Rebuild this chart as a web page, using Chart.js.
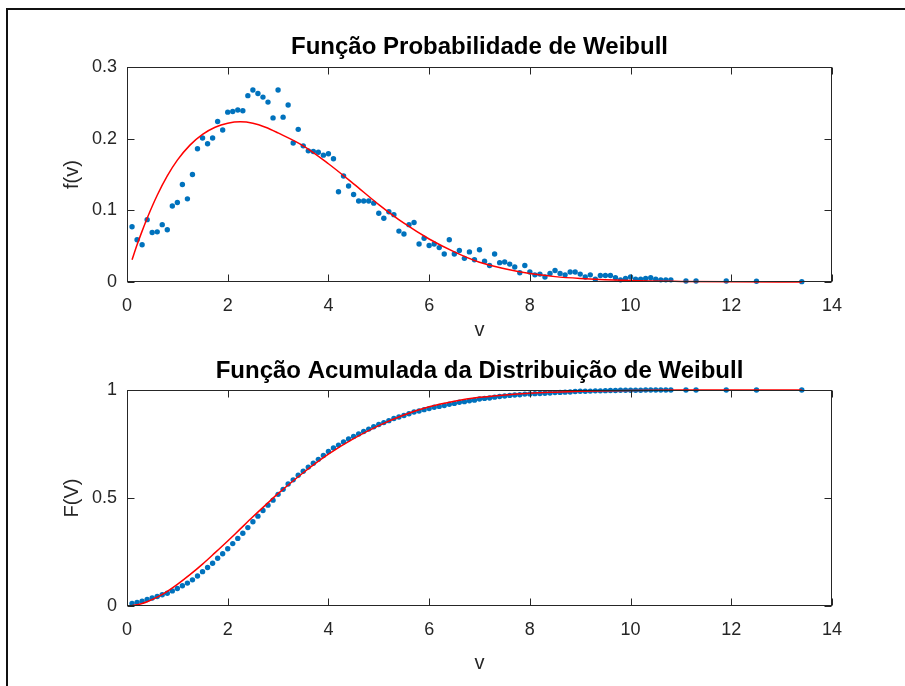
<!DOCTYPE html>
<html><head><meta charset="utf-8">
<script src="https://cdn.jsdelivr.net/npm/chart.js@4.4.1/dist/chart.umd.min.js"></script>
<style>
html,body{margin:0;padding:0;background:#fff;}
body{width:905px;height:686px;position:relative;overflow:hidden;}
#frame{position:absolute;left:6px;top:8px;width:920px;height:700px;border-top:2px solid #111;border-left:2px solid #111;}
#w1{position:absolute;left:0;top:0;width:905px;height:345px;}
#w2{position:absolute;left:0;top:345px;width:905px;height:341px;}
</style></head><body>
<div id="frame"></div>
<div id="w1"><canvas id="c1" width="905" height="345"></canvas></div>
<div id="w2"><canvas id="c2" width="905" height="341"></canvas></div>
<script>
// wind speed classes (observed)
const speeds = [0.1,0.2,0.3,0.4,0.5,0.6,0.7,0.8,0.9,1.0,
1.1,1.2,1.3,1.4,1.5,1.6,1.7,1.8,1.9,2.0,
2.1,2.2,2.3,2.4,2.5,2.6,2.7,2.8,2.9,3.0,
3.1,3.2,3.3,3.4,3.5,3.6,3.7,3.8,3.9,4.0,
4.1,4.2,4.3,4.4,4.5,4.6,4.7,4.8,4.9,5.0,
5.1,5.2,5.3,5.4,5.5,5.6,5.7,5.8,5.9,6.0,
6.1,6.2,6.3,6.4,6.5,6.6,6.7,6.8,6.9,7.0,
7.1,7.2,7.3,7.4,7.5,7.6,7.7,7.8,7.9,8.0,
8.1,8.2,8.3,8.4,8.5,8.6,8.7,8.8,8.9,9.0,
9.1,9.2,9.3,9.4,9.5,9.6,9.7,9.8,9.9,10.0,
10.1,10.2,10.3,10.4,10.5,10.6,10.7,10.8,
11.1,11.3,11.9,12.5,13.4];
// observed probability density f(v)
const pdfObserved = [0.077,0.059,0.052,0.087,0.069,0.070,0.080,0.073,0.106,0.111,
0.136,0.116,0.150,0.186,0.201,0.193,0.201,0.224,0.212,0.237,
0.238,0.240,0.239,0.260,0.268,0.263,0.258,0.251,0.229,0.268,
0.230,0.247,0.194,0.213,0.190,0.183,0.182,0.181,0.177,0.179,
0.172,0.126,0.148,0.134,0.122,0.113,0.113,0.113,0.110,0.096,
0.089,0.098,0.094,0.071,0.067,0.080,0.083,0.053,0.061,0.051,
0.053,0.048,0.039,0.059,0.039,0.044,0.033,0.042,0.031,0.045,
0.029,0.023,0.039,0.027,0.028,0.025,0.021,0.013,0.023,0.014,
0.010,0.011,0.007,0.012,0.016,0.012,0.010,0.014,0.014,0.011,
0.007,0.010,0.004,0.009,0.009,0.009,0.006,0.003,0.005,0.007,
0.004,0.004,0.005,0.006,0.004,0.003,0.003,0.003,
0.0014,0.0014,0.0014,0.001,0.0005];
// observed cumulative F(V)
const cdfObserved = [0.012,0.017,0.022,0.030,0.037,0.044,0.052,0.059,0.070,0.081,
0.094,0.106,0.121,0.139,0.159,0.178,0.198,0.221,0.242,0.265,
0.289,0.313,0.337,0.363,0.390,0.416,0.442,0.467,0.490,0.517,
0.540,0.565,0.584,0.605,0.624,0.643,0.661,0.679,0.697,0.715,
0.732,0.745,0.759,0.773,0.785,0.796,0.808,0.819,0.830,0.840,
0.849,0.858,0.868,0.875,0.882,0.890,0.898,0.903,0.909,0.914,
0.920,0.924,0.928,0.934,0.938,0.943,0.946,0.950,0.953,0.958,
0.961,0.963,0.967,0.970,0.972,0.975,0.977,0.978,0.981,0.982,
0.983,0.984,0.985,0.986,0.988,0.989,0.990,0.991,0.993,0.994,
0.994,0.995,0.996,0.996,0.997,0.998,0.998,0.999,0.999,0.999,
0.999,0.999,1.000,1.000,1.000,1.000,1.000,1.000,
1.000,1.000,1.000,1.000,1.000];
// fitted Weibull curve (red)
const fitSpeeds = [0.1,0.2,0.3,0.4,0.6,0.8,1.0,1.25,1.5,1.75,2.0,2.25,2.5,2.75,3.0,3.5,4.0,4.5,5.0,5.5,6.0,6.5,7.0,7.5,8.0,8.5,9.0,10.0,11.0,12.0,13.4];
const pdfFit = [0.031,0.052,0.071,0.089,0.121,0.148,0.170,0.191,0.206,0.216,0.2215,0.2235,0.2215,0.216,0.208,0.190,0.165,0.137,0.108,0.082,0.060,0.042,0.0275,0.0185,0.0118,0.0075,0.005,0.002,0.0008,0.0003,0.0001];
const cdfFit = [0.002,0.006,0.012,0.020,0.041,0.068,0.100,0.145,0.194,0.247,0.301,0.357,0.413,0.467,0.520,0.617,0.703,0.775,0.835,0.884,0.922,0.948,0.966,0.977,0.985,0.990,0.994,0.998,0.9995,1.0,1.0];
const xTicks = [0,2,4,6,8,10,12,14];
const pdfTicks = [0,0.1,0.2,0.3];
const cdfTicks = [0,0.5,1];
const titles = ['Função Probabilidade de Weibull','Função Acumulada da Distribuição de Weibull'];

const FONT = "'Liberation Sans', Arial, Helvetica, sans-serif";
const AXC = '#262626';

const boxTicks = {
  id: 'boxTicks',
  afterDatasetsDraw(chart) {
    const {ctx, chartArea: a, scales: {x, y}} = chart;
    const L = Math.round(a.left) + 0.5, R = Math.round(a.right) - 0.5;
    const T = Math.round(a.top) + 0.5, B = Math.round(a.bottom) - 0.5;
    ctx.save();
    ctx.strokeStyle = AXC; ctx.lineWidth = 1;
    ctx.strokeRect(L, T, R - L, B - T);
    const len = 7;
    ctx.beginPath();
    x.ticks.forEach(t => {
      const p = Math.round(x.getPixelForValue(t.value)) + 0.5;
      ctx.moveTo(p, B); ctx.lineTo(p, B - len);
      ctx.moveTo(p, T); ctx.lineTo(p, T + len);
    });
    y.ticks.forEach(t => {
      const p = Math.round(y.getPixelForValue(t.value)) + 0.5;
      ctx.moveTo(L, p); ctx.lineTo(L + len, p);
      ctx.moveTo(R, p); ctx.lineTo(R - len, p);
    });
    ctx.stroke();
    ctx.restore();
  }
};

function pts(xs, ys) { return xs.map((v, i) => ({x: v, y: ys[i]})); }

function makeChart(id, cfg) {
  return new Chart(document.getElementById(id), {
    type: 'scatter',
    data: {
      datasets: [
        {data: pts(fitSpeeds, cfg.fit), showLine: true, borderColor: '#FF0000', borderWidth: 1.5,
         pointRadius: 0, cubicInterpolationMode: 'monotone', order: 0, clip: false},
        {data: pts(speeds, cfg.obs), backgroundColor: '#0072BD', borderWidth: 0,
         pointRadius: 2.7, pointHoverRadius: 2.7, order: 1, clip: false}
      ]
    },
    options: {
      responsive: false, animation: false, devicePixelRatio: 1, events: [],
      layout: {padding: {left: 0, right: 73, top: 0, bottom: 0}},
      plugins: {
        legend: {display: false}, tooltip: {enabled: false},
        title: {display: true, fullSize: false, text: cfg.title, color: '#000',
                font: {family: FONT, size: 24, weight: 'bold', lineHeight: 1.2},
                padding: {top: cfg.titleTop, bottom: cfg.titleBottom}}
      },
      scales: {
        x: {
          type: 'linear', min: 0, max: 14,
          grid: {display: false, drawTicks: false}, border: {display: false},
          afterBuildTicks: s => { s.ticks = xTicks.map(v => ({value: v})); },
          ticks: {color: AXC, font: {family: FONT, size: 18}, padding: 13, maxRotation: 0,
                  callback: v => String(v)},
          title: {display: true, text: 'v', color: AXC, font: {family: FONT, size: 20, lineHeight: 1.2},
                  padding: {top: 0, bottom: cfg.xTitleBottom}},
          afterFit: s => { s.height = cfg.xAxisH; }
        },
        y: {
          type: 'linear', min: 0, max: cfg.ymax,
          grid: {display: false, drawTicks: false}, border: {display: false},
          afterBuildTicks: s => { s.ticks = cfg.yTicks.map(v => ({value: v})); },
          ticks: {color: AXC, font: {family: FONT, size: 18}, padding: 10,
                  callback: v => String(v)},
          title: {display: true, text: cfg.ylabel, color: AXC, font: {family: FONT, size: 20, lineHeight: 1.2},
                  padding: {top: 60, bottom: 0}},
          afterFit: s => { s.width = 127; }
        }
      }
    },
    plugins: [boxTicks]
  });
}

makeChart('c1', {title: titles[0], fit: pdfFit, obs: pdfObserved, ymax: 0.3, yTicks: pdfTicks,
  ylabel: 'f(v)', titleTop: 32.6, titleBottom: 5.6, xAxisH: 63, xTitleBottom: 3});
makeChart('c2', {title: titles[1], fit: cdfFit, obs: cdfObserved, ymax: 1, yTicks: cdfTicks,
  ylabel: 'F(V)', titleTop: 11.6, titleBottom: 4.6, xAxisH: 80, xTitleBottom: 11});
</script>
</body></html>
